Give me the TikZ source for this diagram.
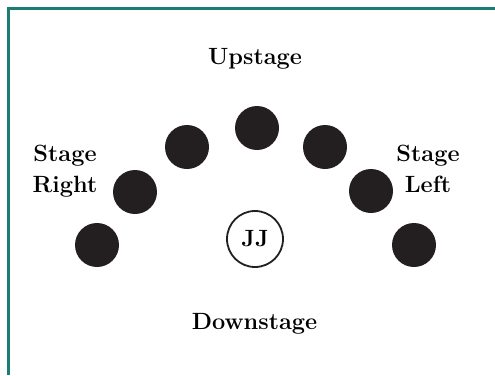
\documentclass[tikz,border=0pt]{standalone}
\definecolor{frameteal}{RGB}{28,125,117}
\definecolor{seatblack}{RGB}{35,31,32}
\begin{document}
\begin{tikzpicture}[x=1pt,y=-1pt,
    seat/.style={circle, fill=seatblack, minimum size=44pt, inner sep=0pt},
    stagetext/.style={font=\fontsize{23.5}{31}\selectfont\bfseries, inner sep=0pt, align=center}]
    \useasboundingbox (0,0) rectangle (495,375);
    % frame (top and left only)
    \draw[frameteal, line width=3pt] (8.5,375) -- (8.5,8.5) -- (495,8.5);

    % labels
    \node[stagetext, anchor=base] (up) at (255,64) {Upstage};
    \node[stagetext, anchor=base] (down) at (254.5,329) {Downstage};
    \node[stagetext, anchor=north] (right) at (65,145) {Stage\\Right};
    \node[stagetext, anchor=north] (left) at (428,145) {Stage\\Left};

    % seats in an arc
    \node[seat] (s1) at (97,245) {};
    \node[seat] (s2) at (135,192) {};
    \node[seat] (s3) at (187,147) {};
    \node[seat] (s4) at (257,128) {};
    \node[seat] (s5) at (325,147) {};
    \node[seat] (s6) at (371,191) {};
    \node[seat] (s7) at (414,245) {};

    % centre position
    \node[circle, draw=seatblack, line width=1.8pt, minimum size=56pt, inner sep=0pt,
          font=\fontsize{23.5}{31}\selectfont\bfseries] (jj) at (255,239) {JJ};
\end{tikzpicture}
\end{document}
